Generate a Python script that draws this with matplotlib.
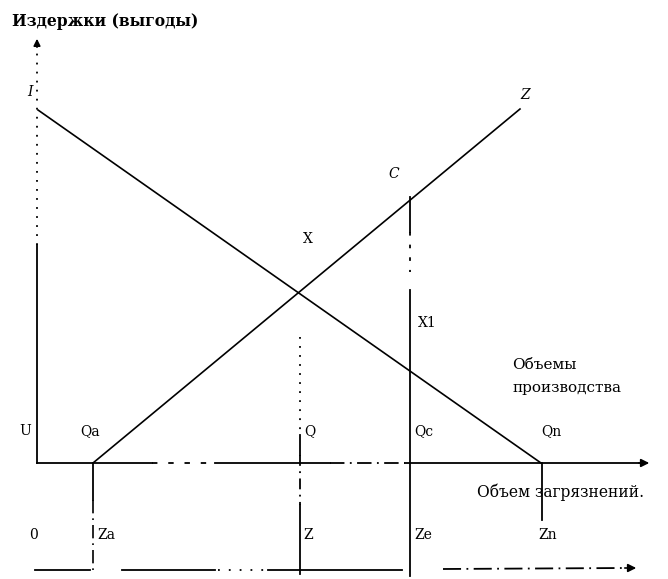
import matplotlib.pyplot as plt

plt.rcParams["font.family"] = "DejaVu Serif"

# diagram geometry (pixel units of the original drawing)
axis_x = 37
axis_y = 463
axis2_y = 570
line_I = ([38, 541], [110, 463])
line_Z = ([93, 520], [463, 109])
q_a, q, q_c, q_n = 93, 300, 410, 542

labels = ["I", "Z", "C", "X", "X1", "U", "Qa", "Q", "Qc", "Qn",
          "0", "Za", "Z", "Ze", "Zn"]
label_xy = [(27, 92), (520, 95), (388, 174), (303, 239), (418, 323),
            (19, 431), (80, 431), (304, 431), (414, 431), (541, 431),
            (29, 535), (97, 535), (303, 535), (414, 535), (538, 535)]

fig = plt.figure(figsize=(6.68, 5.79), dpi=100)
ax = fig.add_axes([0, 0, 1, 1])
ax.set_xlim(0, 668)
ax.set_ylim(579, 0)
ax.axis("off")

k = dict(color="black", lw=1.3)

# vertical axis (costs / benefits)
ax.plot([axis_x, axis_x], [245, 463], **k)
ax.plot([axis_x, axis_x], [245, 48], color="black", lw=1.3, ls=(0, (1, 4)))
ax.annotate("", xy=(axis_x, 36), xytext=(axis_x, 50),
            arrowprops=dict(arrowstyle="-|>", color="black", lw=1.2, mutation_scale=10))

# curves I and Z
ax.plot(*line_I, color="black", lw=1.2)
ax.plot(*line_Z, color="black", lw=1.2)

# horizontal axis: production volume
ax.plot([axis_x, 152], [axis_y, axis_y], **k)
ax.plot([152, 215], [axis_y, axis_y], color="black", lw=1.3, ls=(0, (3, 6)))
ax.plot([215, 330], [axis_y, axis_y], **k)
ax.plot([330, 405], [axis_y, axis_y], color="black", lw=1.3, ls=(0, (8, 3, 1, 3)))
ax.plot([405, 640], [axis_y, axis_y], **k)
ax.annotate("", xy=(652, axis_y), xytext=(636, axis_y),
            arrowprops=dict(arrowstyle="-|>", color="black", lw=1.2, mutation_scale=12))

# lower axis: pollution volume
ax.plot([35, 90], [axis2_y, axis2_y], **k)
ax.plot([122, 215], [axis2_y, axis2_y], **k)
ax.plot([218, 268], [axis2_y, axis2_y], color="black", lw=1.3, ls=(0, (1, 5)))
ax.plot([268, 402], [axis2_y, axis2_y], **k)
ax.plot([443, 625], [axis2_y - 1, axis2_y - 2], color="black", lw=1.3, ls=(0, (10, 3, 1, 3)))
ax.annotate("", xy=(639, axis2_y - 2), xytext=(622, axis2_y - 2),
            arrowprops=dict(arrowstyle="-|>", color="black", lw=1.2, mutation_scale=12))

# Qa / Za
ax.plot([q_a, q_a], [axis_y, 500], **k)
ax.plot([q_a, q_a], [500, 575], color="black", lw=1.2, ls=(0, (8, 3, 1, 3)))

# Q / Z
ax.plot([q, q], [337, 432], color="black", lw=1.3, ls=(0, (1, 4)))
ax.plot([q, q], [435, 455], **k)
ax.plot([q, q], [455, 505], color="black", lw=1.3, ls=(0, (6, 3, 1, 3)))
ax.plot([q, q], [505, 574], **k)

# Qc / Ze
ax.plot([q_c, q_c], [197, 232], **k)
ax.plot([q_c, q_c], [232, 272], color="black", lw=1.3, ls=(0, (2, 5)))
ax.plot([q_c, q_c], [290, 576], **k)

# Qn / Zn
ax.plot([q_n, q_n], [axis_y, 520], **k)

fs = 10
for t, (x, y) in zip(labels, label_xy):
    style = "italic" if t in ("I", "Z", "C") and y < 200 else "normal"
    ax.text(x, y, t, fontsize=fs, ha="left", va="center", style=style)

ax.text(12, 22, "Издержки (выгоды)", fontsize=11.2, weight="bold", va="center")
ax.text(512, 365, "Объемы", fontsize=11, va="center")
ax.text(512, 388, "производства", fontsize=11, va="center")
ax.text(477, 492, "Объем загрязнений.", fontsize=11.2, va="center")

fig.savefig("out.png", dpi=100)
